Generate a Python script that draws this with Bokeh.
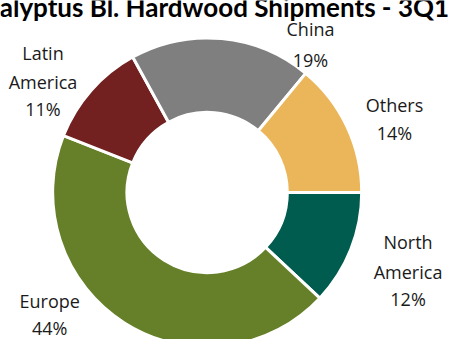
import math
from bokeh.plotting import figure
from bokeh.models import Range1d, ColumnDataSource
from bokeh.core.properties import value
from bokeh.embed import file_html
from bokeh.resources import INLINE

# ---- data ----
regions = ["North America", "Europe", "Latin America", "China", "Others"]
shares = [12, 44, 11, 19, 14]
colors = ["#005C4E", "#66802A", "#722120", "#7F7F7F", "#EBB65A"]
title_text = "Eucalyptus Bl. Hardwood  Shipments - 3Q1"

# ---- layout (coordinates in reference-image pixels, 467x355) ----
W, H = 451, 339
REF_W, REF_H = 467, 355
cx, cy = 214, 201
r_in, r_out = 83, 160
first_angle = 0.0  # first slice starts at 3 o'clock, going clockwise

label_lines = {
    "North America": (["North", "America"], 422, [253, 284, 313]),
    "Europe": (["Europe"], 51, [315, 343]),
    "Latin America": (["Latin", "America"], 44, [55, 85, 114]),
    "China": (["China"], 321, [30, 62]),
    "Others": (["Others"], 408, [109, 139]),
}

p = figure(width=W, height=H, output_backend="svg", toolbar_location=None,
           x_range=Range1d(0, REF_W), y_range=Range1d(-REF_H, 0),
           min_border=0)
p.axis.visible = False
p.grid.visible = False
p.outline_line_color = None
p.background_fill_color = "white"

total = float(sum(shares))
starts, ends = [], []
acc = 0.0
for s in shares:
    a0 = first_angle - 2 * math.pi * acc / total
    a1 = first_angle - 2 * math.pi * (acc + s) / total
    starts.append(a0)
    ends.append(a1)
    acc += s

src = ColumnDataSource(dict(region=regions, share=shares, color=colors,
                            start=starts, end=ends))
p.annular_wedge(x=cx, y=-cy, inner_radius=r_in, outer_radius=r_out,
                start_angle="start", end_angle="end", direction="clock",
                fill_color="color", line_color="white", line_width=3,
                source=src)

xs, ys, texts = [], [], []
for reg, sh in zip(regions, shares):
    lines, lx, lys = label_lines[reg]
    all_lines = lines + [f"{sh}%"]
    for t, ly in zip(all_lines, lys):
        xs.append(lx)
        ys.append(-ly)
        texts.append(t)

p.text(x=xs, y=ys, text=texts, text_align="center", text_baseline="alphabetic",
       text_font=value("Open Sans"), text_font_size="18px", text_color="#1a1a1a")

p.text(x=[-44], y=[-7], text=[title_text], text_align="left",
       text_baseline="alphabetic", text_font=value("Lato"),
       text_font_style="bold", text_font_size="26px", text_color="black")

open("out.html", "w").write(file_html(p, INLINE))
